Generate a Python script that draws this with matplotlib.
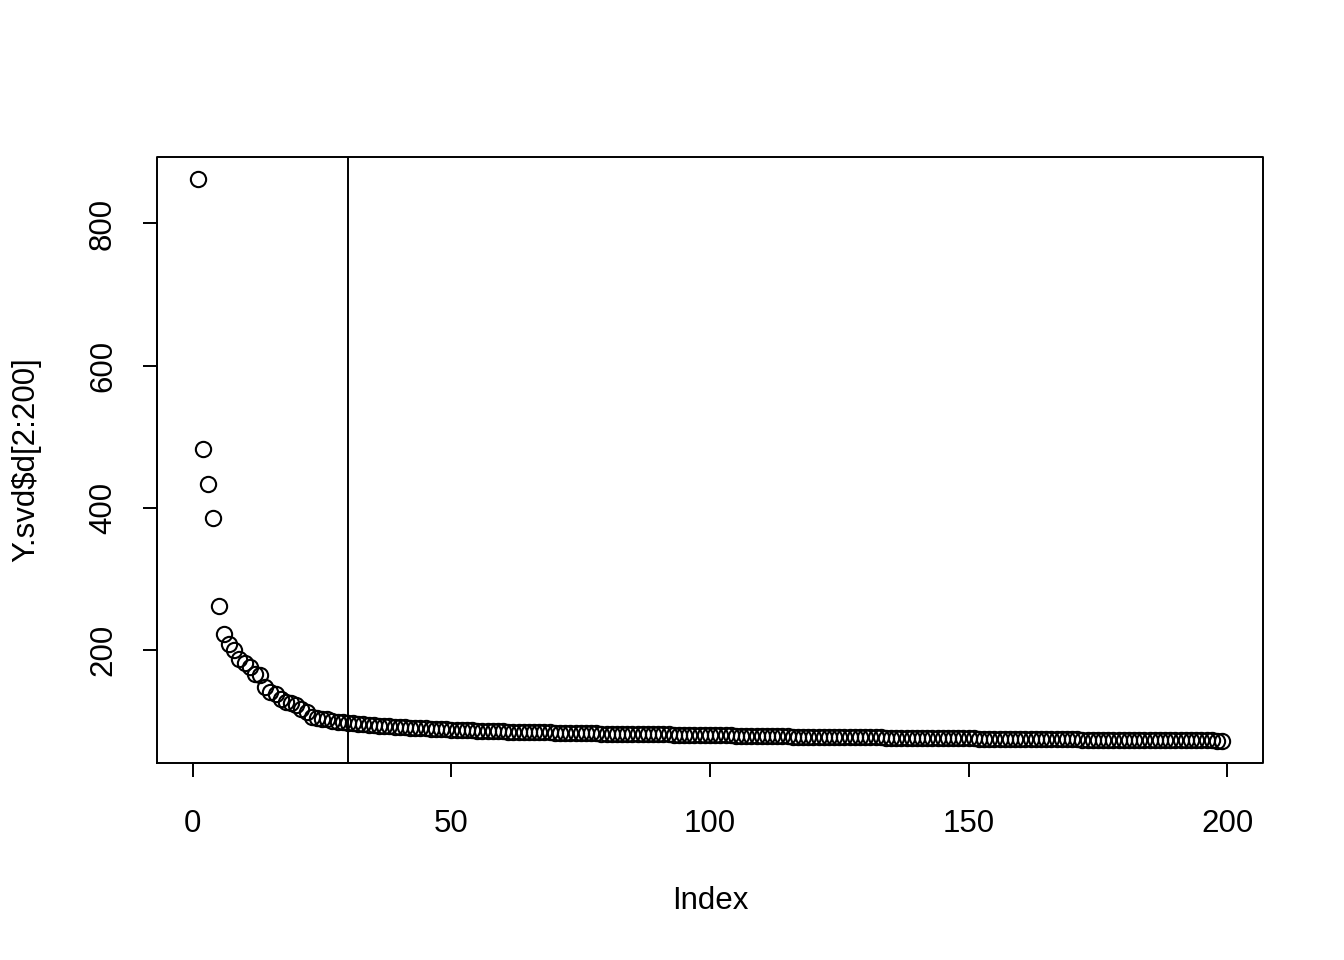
import matplotlib
matplotlib.use('Agg')
import matplotlib.pyplot as plt
import numpy as np

# singular values 2..200
d_vals = [
    862, 483, 434, 385, 262, 222, 208, 199, 187, 181,
    176, 166, 164, 147, 141, 138, 130, 127, 125, 122,
    117, 113, 106, 104, 103, 102, 100, 99, 98, 97,
    96.3, 95.6, 95.0, 94.4, 93.8, 93.2, 92.7, 92.2, 91.7, 91.2,
    90.8, 90.4, 90.0, 89.6, 89.2, 88.9, 88.5, 88.2, 87.8, 87.5,
    87.2, 86.9, 86.6, 86.4, 86.1, 85.9, 85.6, 85.4, 85.2, 85.0,
    84.8, 84.6, 84.5, 84.3, 84.2, 84.0, 83.9, 83.7, 83.6, 83.4,
    83.3, 83.1, 83.0, 82.8, 82.7, 82.6, 82.4, 82.3, 82.1, 82.0,
    81.9, 81.8, 81.7, 81.6, 81.5, 81.4, 81.3, 81.2, 81.1, 81.0,
    80.9, 80.8, 80.7, 80.6, 80.5, 80.4, 80.3, 80.2, 80.1, 80.0,
    79.85, 79.7, 79.55, 79.4, 79.25, 79.1, 78.95, 78.8, 78.65, 78.5,
    78.4, 78.3, 78.2, 78.1, 78.0, 77.9, 77.8, 77.7, 77.6, 77.5,
    77.43, 77.36, 77.29, 77.22, 77.15, 77.08, 77.01, 76.94, 76.87, 76.8,
    76.72, 76.64, 76.56, 76.48, 76.4, 76.32, 76.24, 76.16, 76.08, 76.0,
    75.92, 75.84, 75.76, 75.68, 75.6, 75.52, 75.44, 75.36, 75.28, 75.2,
    75.13, 75.06, 74.99, 74.92, 74.85, 74.78, 74.71, 74.64, 74.57, 74.5,
    74.43, 74.36, 74.29, 74.22, 74.15, 74.08, 74.01, 73.94, 73.87, 73.8,
    73.74, 73.68, 73.62, 73.56, 73.5, 73.44, 73.38, 73.32, 73.26, 73.2,
    73.15, 73.1, 73.05, 73.0, 72.95, 72.9, 72.85, 72.8, 72.75, 72.7,
    72.64, 72.58, 72.52, 72.46, 72.4, 72.35, 72.3, 72.25, 72.2,
]
index = list(range(1, len(d_vals) + 1))
cutoff = 30
x_ticks = [0, 50, 100, 150, 200]
y_ticks = [200, 400, 600, 800]

plt.rcParams['font.family'] = ['Liberation Sans', 'DejaVu Sans']

fig = plt.figure(figsize=(13.44, 9.6), dpi=100)
ax = fig.add_axes([157/1344, 1 - 763/960, (1263-157)/1344, (763-157)/960])

ax.plot(index, d_vals, linestyle='none', marker='o', markersize=11,
        markerfacecolor='none', markeredgecolor='black', markeredgewidth=1.5)
ax.axvline(cutoff, color='black', linewidth=1.4)

# R-style 4% padding
xr = max(index) - min(index)
yr = max(d_vals) - min(d_vals)
ax.set_xlim(min(index) - 0.04 * xr, max(index) + 0.04 * xr)
ax.set_ylim(min(d_vals) - 0.04 * yr, max(d_vals) + 0.04 * yr)

ax.set_xticks(x_ticks)
ax.set_yticks(y_ticks)
ax.set_yticklabels([str(v) for v in y_ticks], rotation=90, va='center')
ax.tick_params(direction='out', length=10, width=1.4, labelsize=22.5)
ax.tick_params(axis='x', pad=23)
ax.tick_params(axis='y', pad=18)
for s in ax.spines.values():
    s.set_visible(False)

# R draws the axis lines only between the extreme ticks
ax.plot([0, 200], [0, 0], transform=ax.get_xaxis_transform(), color='black',
        linewidth=1.4, clip_on=False)
ax.plot([0, 0], [200, 800], transform=ax.get_yaxis_transform(), color='black',
        linewidth=1.4, clip_on=False)
ax.plot([0, 1, 1, 0, 0], [0, 0, 1, 1, 0], transform=ax.transAxes, color='black',
        linewidth=1.4, clip_on=False)

fig.text(710/1344, 1 - 901/960, 'Index', ha='center', va='center', fontsize=22.5)
fig.text(26/1344, 1 - 460/960, 'Y.svd$d[2:200]', ha='center', va='center',
         rotation=90, fontsize=22.5)

fig.savefig('out.png', dpi=100)
